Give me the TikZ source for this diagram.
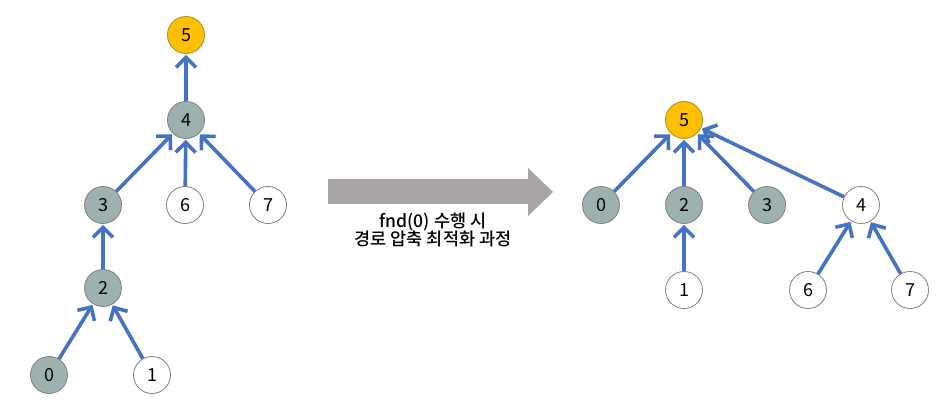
\documentclass[tikz,border=0pt]{standalone}
\usepackage{fontspec}
\setmainfont{Noto Sans CJK KR}
\newfontfamily\krbold{Noto Sans CJK KR Medium}
\usetikzlibrary{arrows.meta}
\definecolor{arrowblue}{HTML}{4472C4}
\definecolor{gold}{HTML}{FFC000}
\definecolor{goldline}{HTML}{B08A20}
\definecolor{teal}{HTML}{9DB1B1}
\definecolor{nodeline}{HTML}{7F7F7F}
\definecolor{bigarrow}{HTML}{A8A5A4}
\tikzset{
  vnode/.style={circle, minimum size=37pt, inner sep=0pt, draw=nodeline, line width=0.8pt, font=\fontsize{18}{20}\selectfont},
  root/.style={vnode, fill=gold, draw=goldline},
  visited/.style={vnode, fill=teal},
  plain/.style={vnode, fill=white},
  link/.style={draw=arrowblue, line width=3.6pt, -{Straight Barb[length=10pt,width=20pt,line width=3.6pt]}, shorten >=1pt},
  caption/.style={font=\krbold\fontsize{17.5}{18.5}\selectfont, align=center}
}
\begin{document}
\begin{tikzpicture}[x=1pt,y=-1pt]
\useasboundingbox (0,0) rectangle (947,411);
% left tree
\node[root] (L5) at (186,35) {5};
\node[visited] (L4) at (186,120) {4};
\node[visited] (L3) at (103,205) {3};
\node[plain] (L6) at (185,205) {6};
\node[plain] (L7) at (268,205) {7};
\node[visited] (L2) at (103,288) {2};
\node[visited] (L0) at (49,375) {0};
\node[plain] (L1) at (152,375) {1};
\draw[link] (L4) -- (L5);
\draw[link] (L3) -- (L4);
\draw[link] (L6) -- (L4);
\draw[link] (L7) -- (L4);
\draw[link] (L2) -- (L3);
\draw[link] (L0) -- (L2);
\draw[link] (L1) -- (L2);
% big arrow
\fill[bigarrow] (328,179) -- (528,179) -- (528,168) -- (553,192) -- (528,216) -- (528,204) -- (328,204) -- cycle;
\node[caption] (cap) at (433,230) {fnd(0) 수행 시\\경로 압축 최적화 과정};
% right tree
\node[root] (R5) at (684,120) {5};
\node[visited] (R0) at (601,205) {0};
\node[visited] (R2) at (684,205) {2};
\node[visited] (R3) at (767,205) {3};
\node[plain] (R4) at (861,205) {4};
\node[plain] (R1) at (684,290) {1};
\node[plain] (R6) at (808,290) {6};
\node[plain] (R7) at (910,290) {7};
\draw[link] (R0) -- (R5);
\draw[link] (R2) -- (R5);
\draw[link] (R3) -- (R5);
\draw[link] (R4) -- (R5);
\draw[link] (R1) -- (R2);
\draw[link] (R6) -- (R4);
\draw[link] (R7) -- (R4);
\end{tikzpicture}
\end{document}
